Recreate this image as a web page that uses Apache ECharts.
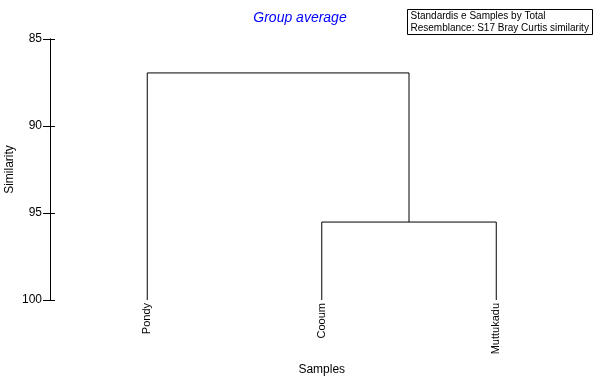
<!DOCTYPE html>
<html><head><meta charset="utf-8">
<script src="https://cdn.jsdelivr.net/npm/echarts@6/dist/echarts.min.js"></script>
<style>html,body{margin:0;padding:0;background:#fff}#c{width:600px;height:384px}</style>
</head><body><div id="c"></div>
<script>
// Data
const leafNames = ['Pondy', 'Cooum', 'Muttukadu'];
const leafPositions = [1, 2, 3];
const leafLevel = 100;
// merges: node ids 0..2 are leaves, 3.. are merges in order
const mergeChildren = [[1, 2], [0, 3]];
const mergeHeights = [95.52, 86.95];
const yTicks = [85, 90, 95, 100];
const titleText = 'Group average';
const infoLines = ['Standardis e Samples by Total', 'Resemblance: S17 Bray Curtis similarity'];

// Build node positions
const nodeX = leafPositions.slice();
const nodeH = leafPositions.map(() => leafLevel);
const links = [];
mergeChildren.forEach((ch, i) => {
  const [a, b] = ch;
  const h = mergeHeights[i];
  links.push([[nodeX[a], nodeH[a]], [nodeX[a], h], [nodeX[b], h], [nodeX[b], nodeH[b]]]);
  nodeX.push((nodeX[a] + nodeX[b]) / 2);
  nodeH.push(h);
});

const font = 'Liberation Sans, Arial, sans-serif';
const chart = echarts.init(document.getElementById('c'));
chart.setOption({
  animation: false,
  backgroundColor: '#fff',
  title: {
    text: titleText, left: 'center', top: 6,
    textStyle: { color: '#0000ff', fontStyle: 'italic', fontWeight: 'normal', fontSize: 14, fontFamily: font }
  },
  grid: { left: 60, right: 16.5, top: 39, bottom: 84, containLabel: false, outerBoundsMode: 'none' },
  xAxis: {
    type: 'value', min: 0.5, max: 3.5,
    axisLine: { show: false }, axisTick: { show: false }, axisLabel: { show: false }, splitLine: { show: false },
    name: 'Samples', nameLocation: 'middle', nameGap: 64, nameMoveOverlap: false,
    nameTextStyle: { color: '#000', fontSize: 12, fontFamily: font }
  },
  yAxis: [{
    type: 'value', inverse: true, min: 85, max: 100, interval: 5, offset: 10,
    axisLine: { show: true, lineStyle: { color: '#000', width: 1 } },
    axisTick: { show: true, length: 7, lineStyle: { color: '#000' } },
    axisLabel: { color: '#000', fontSize: 12, fontFamily: font, margin: 8,
      formatter: v => yTicks.includes(v) ? String(v) : '' },
    splitLine: { show: false },
    name: 'Similarity', nameLocation: 'middle', nameGap: 34, nameRotate: 90, nameMoveOverlap: false,
    nameTextStyle: { color: '#000', fontSize: 12, fontFamily: font }
  }, {
    type: 'value', inverse: true, min: 85, max: 100, interval: 5, offset: 10, position: 'left',
    axisLine: { show: true, lineStyle: { color: '#000', width: 1 } },
    axisTick: { show: true, inside: true, length: 5, lineStyle: { color: '#000' } },
    axisLabel: { show: false }, splitLine: { show: false }
  }],
  graphic: [{
    type: 'group', left: 407, top: 9,
    children: [
      { type: 'rect', shape: { x: 0, y: 0, width: 185, height: 25 }, style: { fill: '#fff', stroke: '#000', lineWidth: 1 } },
      { type: 'text', x: 3, y: 1, style: { text: infoLines.join('\n'), font: '10px ' + font, fill: '#000', lineHeight: 12 } }
    ]
  }],
  series: [{
    type: 'custom',
    coordinateSystem: 'cartesian2d',
    yAxisIndex: 0,
    data: links.map((l, i) => [i]),
    renderItem: (params, api) => {
      const l = links[api.value(0)];
      const pts = l.map(p => api.coord(p));
      return { type: 'polyline', shape: { points: pts }, style: { stroke: '#000', lineWidth: 1, fill: null } };
    },
    silent: true
  }, {
    type: 'custom',
    coordinateSystem: 'cartesian2d',
    data: leafNames.map((n, i) => [leafPositions[i], leafLevel]),
    renderItem: (params, api) => {
      const p = api.coord([api.value(0), api.value(1)]);
      return { type: 'text', x: p[0], y: p[1] + 3, rotation: Math.PI / 2,
        style: { text: leafNames[params.dataIndex], font: '11px ' + font, fill: '#000', align: 'right', verticalAlign: 'middle' } };
    },
    silent: true
  }]
});
</script></body></html>
